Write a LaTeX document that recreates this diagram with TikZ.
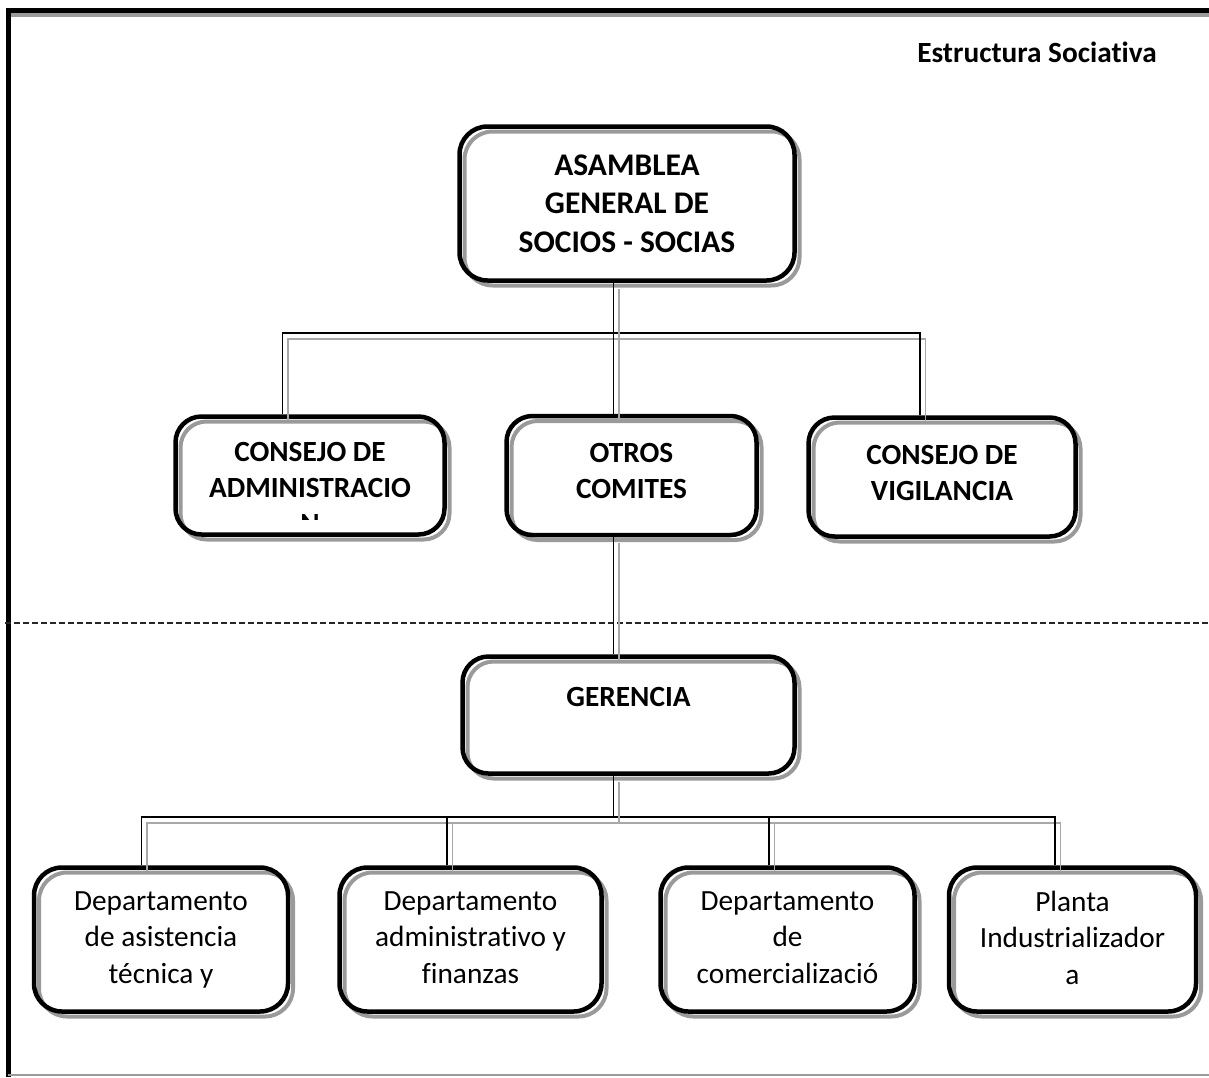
\documentclass[tikz,border=0pt]{standalone}
\usepackage{fontspec}
\setmainfont{Carlito}[Ligatures=CommonOff]
\usepackage{tikz}

\begin{document}
\begin{tikzpicture}[x=1pt, y=-1pt,
  caja/.style={draw=black, line width=4.5pt, rounded corners=26pt, align=center, inner sep=0pt,
    preaction={draw=grisSombra, line width=4pt, transform canvas={shift={(5pt,-5pt)}}}},
  conector/.style={draw=black, line width=1.5pt,
    preaction={draw=grisLinea, line width=1.5pt, transform canvas={shift={(5.5pt,-6pt)}}}},
  letraT/.style={font=\fontsize{31.5}{38.5}\selectfont\bfseries},
  letraN/.style={font=\fontsize{29.3}{36}\selectfont\bfseries, text depth=9pt},
  letraD/.style={font=\fontsize{29.3}{36.5}\selectfont, text depth=4pt}]

% Colori
\definecolor{grisSombra}{HTML}{9A9A9A}
\definecolor{grisLinea}{HTML}{A8A8A8}

\useasboundingbox (0,0) rectangle (1209,1077);

% Marco
\draw[grisSombra, line width=4pt] (11,15) -- (1209,15);
\draw[line width=5pt] (8,1077) -- (8,10.5) -- (1209,10.5);
\draw[grisSombra, line width=1.2pt] (8,1075) -- (1209,1075);

% Titulo
\node[font=\fontsize{29.3}{34}\selectfont\bfseries] (titulo) at (1037,52) {Estructura Sociativa};

% Linea de separacion
\draw[black!85, line width=1.4pt, dash pattern=on 6pt off 3pt] (5,623) -- (1209,623);

% Nivel superior
\node[caja, letraT, rounded corners=28pt, minimum width=335pt, minimum height=154pt] (asamblea) at (627,203.5)
  {ASAMBLEA\\GENERAL DE\\SOCIOS - SOCIAS};

\node[caja, letraN, minimum width=269pt, minimum height=118pt, text depth=11pt] (consejoadm) at (310,475.5)
  {CONSEJO DE\\ADMINISTRACIO};
\node[caja, letraN, minimum width=250pt, minimum height=119pt] (otros) at (631.5,475.5)
  {OTROS\\COMITES};
\node[caja, letraN, minimum width=267pt, minimum height=119pt] (vigilancia) at (942,477)
  {CONSEJO DE\\VIGILANCIA};

% ultima linea cortada
\begin{scope}
  \clip (180,420) rectangle (440,519.5);
  \node[letraN, text depth=0pt, anchor=base] (consejoadmN) at (310,533.5) {N};
\end{scope}

\node[caja, letraN, minimum width=332pt, minimum height=117pt, text height=20pt, text depth=38pt] (gerencia) at (628.5,715)
  {GERENCIA};

% Departamentos
\node[caja, letraD, rounded corners=28pt, minimum width=254pt, minimum height=144pt] (depto1) at (161,939.5)
  {Departamento\\de asistencia\\técnica y};
\node[caja, letraD, rounded corners=28pt, minimum width=262pt, minimum height=144pt] (depto2) at (470.5,939.5)
  {Departamento\\administrativo y\\finanzas};
\node[caja, letraD, rounded corners=28pt, minimum width=254pt, minimum height=144pt] (depto3) at (787.5,939.5)
  {Departamento\\de\\comercializació};
\node[caja, letraD, rounded corners=28pt, minimum width=247pt, minimum height=144pt] (depto4) at (1072.5,939.5)
  {Planta\\Industrializador\\a};

% Puntos de union
\coordinate (tronco) at (613.5,333);
\coordinate (ramaI) at (282.5,333);
\coordinate (ramaD) at (920,333);
\coordinate (ramaB1) at (141.5,817);
\coordinate (ramaB2) at (447,817);
\coordinate (ramaB3) at (769,817);
\coordinate (ramaB4) at (1055,817);

% Conectores
\draw[conector] (consejoadm.north -| ramaI) -- (ramaI) -- (ramaD) -- (vigilancia.north -| ramaD);
\draw[conector] (asamblea.south -| tronco) -- (otros.north -| tronco);
\draw[conector] (otros.south -| tronco) -- (gerencia.north -| tronco);

\draw[conector] (depto1.north -| ramaB1) -- (ramaB1) -- (ramaB4) -- (depto4.north -| ramaB4);
\draw[conector] (gerencia.south -| tronco) -- (tronco |- ramaB1);
\draw[conector] (depto2.north -| ramaB2) -- (ramaB2);
\draw[conector] (depto3.north -| ramaB3) -- (ramaB3);

\end{tikzpicture}
\end{document}
